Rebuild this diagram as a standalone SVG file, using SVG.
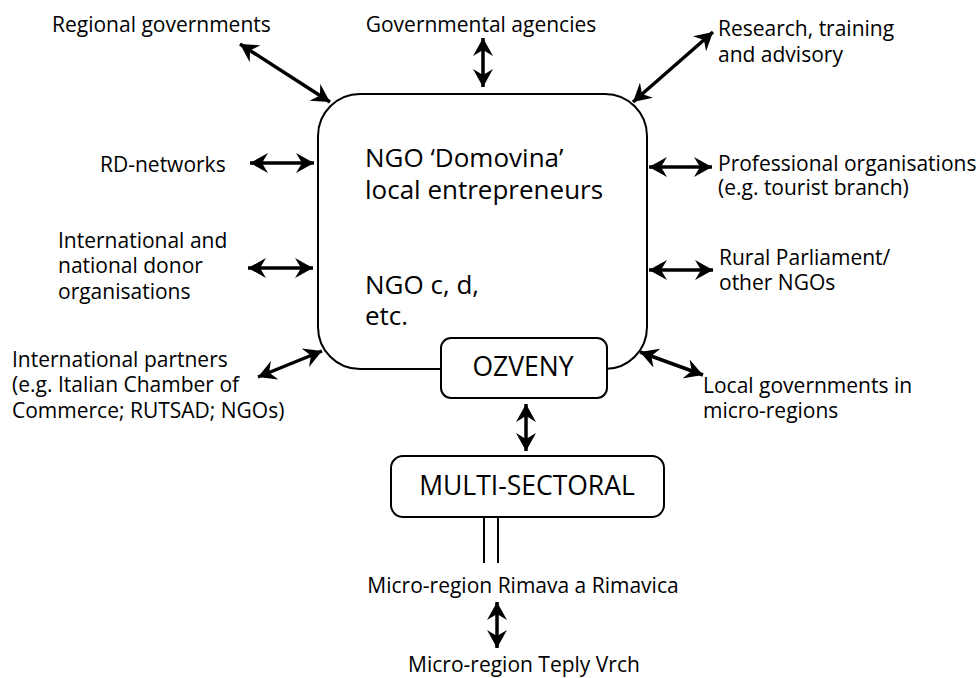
<svg xmlns="http://www.w3.org/2000/svg" width="980" height="678" viewBox="0 0 980 678">
<defs>
<marker id="ah" viewBox="0 0 18 20" refX="18" refY="10" markerWidth="18" markerHeight="20" markerUnits="userSpaceOnUse" orient="auto-start-reverse">
<path d="M0,0 L18,10 L0,20 L6,10 z" fill="#000"/>
</marker>
<style>
text{font-family:"Open Sans","Liberation Sans",sans-serif;fill:#000}
.lbl{font-size:21px}
.big{font-size:26px}
.box{font-size:26.5px}
.node{fill:#fff;stroke:#000;stroke-width:2}
.conn line{stroke:#000;stroke-width:3.5;marker-start:url(#ah);marker-end:url(#ah)}
.dbl{stroke:#000;stroke-width:2}
</style>
</defs>
<rect width="980" height="678" fill="#fff"/>
<g id="main">
<rect class="node" x="318" y="94" width="329" height="275" rx="42"/>
<text class="big" x="365" y="167">NGO ‘Domovina’</text>
<text class="big" x="365" y="199">local entrepreneurs</text>
<text class="big" x="365" y="294">NGO c, d,</text>
<text class="big" x="365" y="325">etc.</text>
</g>
<g id="ozveny">
<rect class="node" x="441" y="338" width="166" height="60" rx="10"/>
<text class="box" x="523" y="376" text-anchor="middle">OZVENY</text>
</g>
<g id="multi">
<rect class="node" x="391" y="456" width="273" height="61" rx="12"/>
<text class="box" x="527" y="495" text-anchor="middle">MULTI-SECTORAL</text>
</g>
<g id="regional"><text class="lbl" x="52" y="32">Regional governments</text></g>
<g id="agencies"><text class="lbl" x="481" y="32" text-anchor="middle">Governmental agencies</text></g>
<g id="research"><text class="lbl" x="718" y="36">Research, training</text><text class="lbl" x="718" y="62">and advisory</text></g>
<g id="rd"><text class="lbl" x="100" y="172">RD-networks</text></g>
<g id="professional"><text class="lbl" x="718" y="171">Professional organisations</text><text class="lbl" x="718" y="195">(e.g. tourist branch)</text></g>
<g id="donor"><text class="lbl" x="58" y="248">International and</text><text class="lbl" x="58" y="273">national donor</text><text class="lbl" x="58" y="299">organisations</text></g>
<g id="rural"><text class="lbl" x="719" y="265">Rural Parliament/</text><text class="lbl" x="719" y="290">other NGOs</text></g>
<g id="partners"><text class="lbl" x="12" y="367">International partners</text><text class="lbl" x="12" y="392">(e.g. Italian Chamber of</text><text class="lbl" x="12" y="418">Commerce; RUTSAD; NGOs)</text></g>
<g id="localgov"><text class="lbl" x="703" y="393">Local governments in</text><text class="lbl" x="703" y="418">micro-regions</text></g>
<g id="rimava"><text class="lbl" x="523" y="593" text-anchor="middle">Micro-region Rimava a Rimavica</text></g>
<g id="teply"><text class="lbl" x="524" y="672" text-anchor="middle">Micro-region Teply Vrch</text></g>
<g id="connectors" class="conn">
<line x1="240" y1="44" x2="330" y2="102"/>
<line x1="483" y1="38" x2="483" y2="87"/>
<line x1="713" y1="32" x2="633" y2="102"/>
<line x1="250" y1="163" x2="314" y2="163"/>
<line x1="649" y1="167" x2="712" y2="167"/>
<line x1="248" y1="268" x2="313" y2="268"/>
<line x1="649" y1="270" x2="713" y2="270"/>
<line x1="258" y1="377" x2="322" y2="351"/>
<line x1="640" y1="352" x2="703" y2="375"/>
<line x1="526" y1="404" x2="526" y2="451"/>
<line x1="497" y1="602" x2="497" y2="648"/>
<path class="dbl" d="M484,517 V563 M498,517 V563" fill="none"/>
</g>
</svg>
